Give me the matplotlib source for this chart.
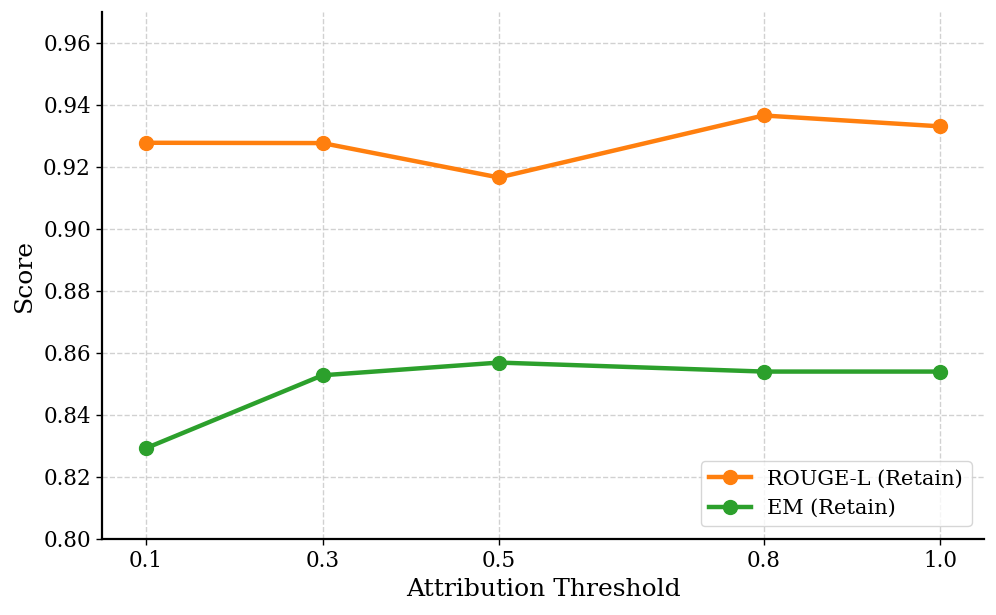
import matplotlib
matplotlib.use("Agg")
import matplotlib.pyplot as plt

thresholds = [0.1, 0.3, 0.5, 0.8, 1.0]
rouge_l = [0.9278, 0.9277, 0.9166, 0.9366, 0.9331]
em = [0.8293, 0.8528, 0.8569, 0.8540, 0.8540]
xtick_labels = ["0.1", "0.3", "0.5", "0.8", "1.0"]

plt.rcParams['font.family'] = ['DejaVu Serif']

fig = plt.figure(figsize=(9.96, 6.15), dpi=100)
ax = fig.add_axes([0.1024, 0.1236, 0.8856, 0.857])

ax.plot(thresholds, rouge_l, color='#ff7f0e', lw=3.2, marker='o', ms=10, label='ROUGE-L (Retain)')
ax.plot(thresholds, em, color='#2ca02c', lw=3.2, marker='o', ms=10, label='EM (Retain)')

ax.set_xlim(0.05, 1.05)
ax.set_ylim(0.80, 0.97)
ax.set_xticks(thresholds)
ax.set_xticklabels(xtick_labels)
ax.set_yticks([0.80, 0.82, 0.84, 0.86, 0.88, 0.90, 0.92, 0.94, 0.96])
ax.tick_params(labelsize=15.5, length=4.5, width=1)
ax.set_xlabel('Attribution Threshold', fontsize=18, labelpad=4)
ax.set_ylabel('Score', fontsize=18, labelpad=5)
ax.grid(True, linestyle='--', color='#cccccc', alpha=0.9, lw=1)
ax.spines['top'].set_visible(False)
ax.spines['right'].set_visible(False)
ax.spines['left'].set_linewidth(1.6)
ax.spines['bottom'].set_linewidth(1.6)
ax.legend(loc='lower right', fontsize=15, borderaxespad=0.6)

fig.savefig('out.png', dpi=100)
